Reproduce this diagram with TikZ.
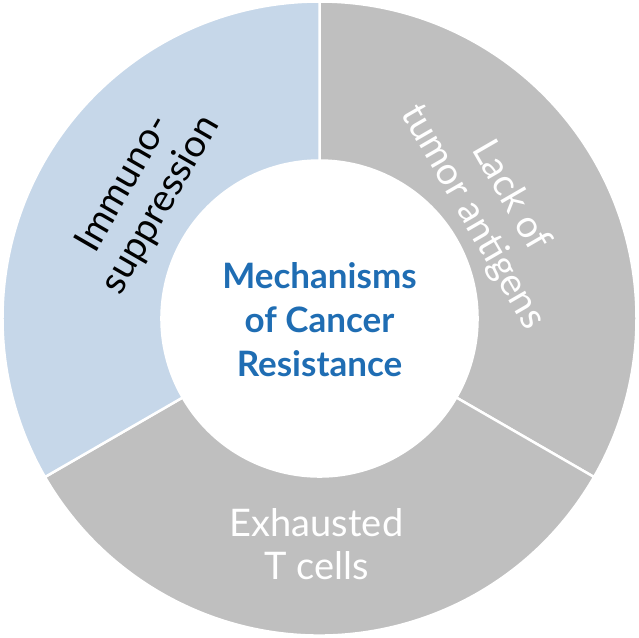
\documentclass[tikz,border=0pt]{standalone}
\usepackage{fontspec}
\setmainfont{Lato}
\definecolor{seggray}{HTML}{BFBFBF}
\definecolor{segblue}{HTML}{C6D7E9}
\definecolor{ctrblue}{HTML}{1F6DB3}
\begin{document}
\begin{tikzpicture}[x=1pt,y=1pt,
  seg/.style={draw=white,line width=2.5pt,line join=miter},
  lbl/.style={align=center,font=\fontsize{38}{43}\selectfont,inner sep=0pt}]
\useasboundingbox (-319.5,-318.5) rectangle (319.5,318.5);
\def\Ro{317}\def\Ri{158}
\fill[seggray,seg] (90:\Ro) arc[start angle=90,end angle=-30,radius=\Ro] -- (-30:\Ri) arc[start angle=-30,end angle=90,radius=\Ri] -- cycle;
\fill[seggray,seg] (-30:\Ro) arc[start angle=-30,end angle=-150,radius=\Ro] -- (-150:\Ri) arc[start angle=-150,end angle=-30,radius=\Ri] -- cycle;
\fill[segblue,seg] (90:\Ro) arc[start angle=90,end angle=210,radius=\Ro] -- (210:\Ri) arc[start angle=210,end angle=90,radius=\Ri] -- cycle;
\node[lbl,text=black,rotate=60] (imm) at (-177,124) {Immuno-\\suppression};
\node[lbl,text=white,rotate=-60] (lack) at (172,112) {Lack of\\tumor antigens};
\node[lbl,text=white] (exh) at (-3,-226) {Exhausted\\T cells};
\node[align=center,text=ctrblue,font=\bfseries\fontsize{35}{44}\selectfont] (ctr) at (0,-1) {Mechanisms\\of Cancer\\Resistance};
\end{tikzpicture}
\end{document}
